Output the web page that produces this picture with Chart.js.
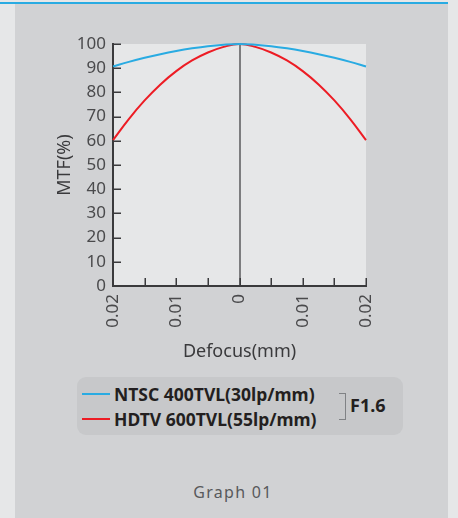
<!DOCTYPE html>
<html>
<head>
<meta charset="utf-8">
<script src="https://cdn.jsdelivr.net/npm/chart.js@4"></script>
<style>
  body { margin:0; width:458px; height:518px; background:#e6e7e8; position:relative; overflow:hidden; font-family:"Noto Sans", sans-serif; }
  #topline { position:absolute; left:0; top:2px; width:448px; height:2px; background:#29abe2; }
  #panel { position:absolute; left:15px; top:4px; width:433px; height:514px; background:#d1d2d4; }
  #wrap { position:absolute; left:15px; top:5px; width:433px; height:360px; }
  #legend { position:absolute; left:77px; top:377px; width:326px; height:58px; border-radius:9px; background:#c7c8ca; }
  .row { position:absolute; left:0; height:20px; font-weight:700; font-size:17.5px; color:#231f20; white-space:nowrap; line-height:20px; }
  .sw { position:absolute; left:5px; top:9px; width:28px; height:2px; }
  .row span.t { position:absolute; left:37px; top:0; }
  #bracket { position:absolute; left:262px; top:16px; width:6px; height:25px; border:1.5px solid #808285; border-left:none; }
  #fnum { position:absolute; left:273px; top:17px; font-weight:700; font-size:18px; color:#231f20; line-height:22px; }
  #caption { position:absolute; left:0; width:466px; top:481px; text-align:center; font-size:16px; letter-spacing:1.3px; color:#58595b; }
</style>
</head>
<body>
<div id="topline"></div>
<div id="panel"></div>
<div id="wrap"><canvas id="myChart" width="433" height="360"></canvas></div>
<div id="legend">
  <div class="row" style="top:7px"><div class="sw" style="background:#29abe2"></div><span class="t">NTSC 400TVL(30lp/mm)</span></div>
  <div class="row" style="top:32px"><div class="sw" style="background:#ed1c24"></div><span class="t">HDTV 600TVL(55lp/mm)</span></div>
  <div id="bracket"></div>
  <div id="fnum">F1.6</div>
</div>
<div id="caption">Graph 01</div>
<script>
// defocus positions (mm) and MTF readings (%)
var defocus = [-0.02, -0.0175, -0.015, -0.0125, -0.01, -0.0075, -0.005, -0.0025, 0,
               0.0025, 0.005, 0.0075, 0.01, 0.0125, 0.015, 0.0175, 0.02];
var ntsc = [90.7, 92.6, 94.3, 95.8, 97.1, 98.2, 99.1, 99.7, 100,
            99.7, 99.1, 98.2, 97.1, 95.8, 94.3, 92.6, 90.7];
var hdtv = [60.3, 69.0, 76.7, 83.3, 88.8, 93.2, 96.5, 98.8, 100,
            98.8, 96.5, 93.2, 88.8, 83.3, 76.7, 69.0, 60.3];
var xTickValues = [-0.02, -0.015, -0.01, -0.005, 0, 0.005, 0.01, 0.015, 0.02];
var xTickLabels = ['0.02', '', '0.01', '', '0', '', '0.01', '', '0.02'];
var yTickValues = [0, 10, 20, 30, 40, 50, 60, 70, 80, 90, 100];

function points(ys) {
  return defocus.map(function (x, i) { return {x: x, y: ys[i]}; });
}

var frame = {
  id: 'frame',
  beforeDraw: function (chart) {
    var a = chart.chartArea, c = chart.ctx;
    c.save();
    c.fillStyle = '#e6e7e8';
    c.fillRect(a.left, a.top, a.right - a.left, a.bottom - a.top);
    c.restore();
  },
  afterDraw: function (chart) {
    var a = chart.chartArea, c = chart.ctx;
    var xs = chart.scales.x, ys = chart.scales.y;
    c.save();
    c.strokeStyle = '#3a3a3c';
    c.lineWidth = 1.5;
    c.beginPath();
    xs.ticks.forEach(function (t) {
      var px = Math.round(xs.getPixelForValue(t.value)) + 0.25;
      c.moveTo(px, a.bottom);
      c.lineTo(px, a.bottom - 8);
    });
    ys.ticks.forEach(function (t) {
      var py = Math.round(ys.getPixelForValue(t.value)) + 0.25;
      c.moveTo(a.left, py);
      c.lineTo(a.left + 8, py);
    });
    c.stroke();
    c.restore();
  }
};

var ctx = document.getElementById('myChart').getContext('2d');
var myChart = new Chart(ctx, {
  type: 'line',
  data: {
    datasets: [{
      data: points(ntsc),
      label: 'NTSC 400TVL(30lp/mm)',
      borderColor: '#29abe2',
      borderWidth: 2,
      pointRadius: 0,
      tension: 0.4,
      clip: 4
    }, {
      data: points(hdtv),
      label: 'HDTV 600TVL(55lp/mm)',
      borderColor: '#ed1c24',
      borderWidth: 2,
      pointRadius: 0,
      tension: 0.4,
      clip: 4
    }]
  },
  options: {
    responsive: false,
    animation: false,
    devicePixelRatio: 1,
    layout: { padding: { left: 0, right: 82, top: 39, bottom: 0 } },
    plugins: { legend: { display: false }, tooltip: { enabled: false } },
    scales: {
      x: {
        type: 'linear',
        min: -0.02,
        max: 0.02,
        afterBuildTicks: function (s) { s.ticks = xTickValues.map(function (v) { return {value: v}; }); },
        afterFit: function (s) { s.height = 79; },
        ticks: {
          autoSkip: false,
          minRotation: 90,
          maxRotation: 90,
          padding: 8,
          color: '#4a4a4c',
          font: { family: 'Noto Sans', size: 17 },
          callback: function (v, i) { return xTickLabels[i]; }
        },
        grid: {
          drawTicks: false,
          lineWidth: 2,
          color: function (c) { return c.tick && c.tick.value === 0 ? '#7d7d7f' : 'rgba(0,0,0,0)'; }
        },
        border: { color: '#3a3a3c', width: 2 },
        title: {
          display: true,
          text: 'Defocus(mm)',
          color: '#3a3a3c',
          font: { family: 'Noto Sans', size: 18 },
          padding: { top: 0, bottom: 2 }
        }
      },
      y: {
        min: 0,
        max: 100,
        afterBuildTicks: function (s) { s.ticks = yTickValues.map(function (v) { return {value: v}; }); },
        afterFit: function (s) { s.width = 98; },
        ticks: {
          padding: 7,
          color: '#4a4a4c',
          font: { family: 'Noto Sans', size: 17 }
        },
        grid: { drawTicks: false, drawOnChartArea: false },
        border: { color: '#3a3a3c', width: 2 },
        title: {
          display: true,
          text: 'MTF(%)',
          color: '#3a3a3c',
          font: { family: 'Noto Sans', size: 18 },
          padding: { top: 39, bottom: 0 }
        }
      }
    }
  },
  plugins: [frame]
});
</script>
</body>
</html>
